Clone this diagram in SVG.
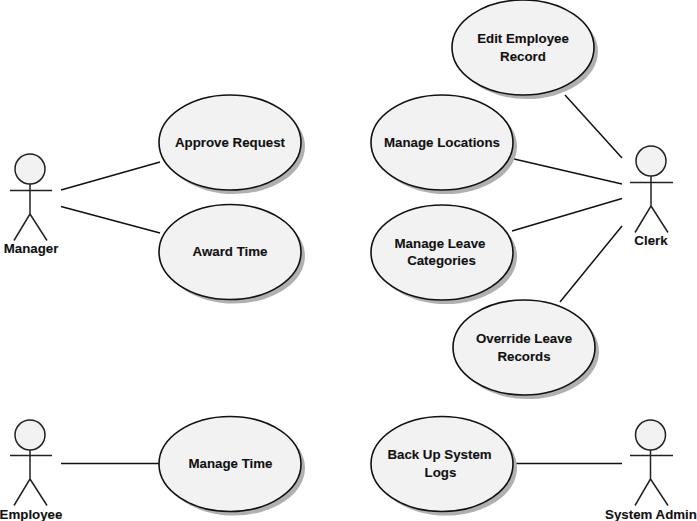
<svg xmlns="http://www.w3.org/2000/svg" width="697" height="521" viewBox="0 0 697 521">
<defs><filter id="b" x="-5%" y="-5%" width="110%" height="110%"><feGaussianBlur stdDeviation="0.7"/></filter></defs>
<style>
text{font-family:"Liberation Sans",Arial,sans-serif;font-size:13.3px;font-weight:bold;fill:#111;text-anchor:middle;stroke:#111;stroke-width:0.1}
.s{fill:#b0b0b0;stroke:none;filter:url(#b)}
.u{fill:#f2f2f2;stroke:#111;stroke-width:1.6}
.c{stroke:#111;stroke-width:1.5;fill:none}
.a{stroke:#222;stroke-width:1.5;fill:none}
.h{fill:#f2f2f2;stroke:#222;stroke-width:1.5}
</style>
<rect width="697" height="521" fill="#fff"/>
<g id="connectors">
<line class="c" x1="61" y1="190" x2="160" y2="162"/>
<line class="c" x1="61" y1="206.500" x2="160" y2="233"/>
<line class="c" x1="565" y1="95" x2="622" y2="158"/>
<line class="c" x1="512" y1="158.500" x2="622" y2="184"/>
<line class="c" x1="512" y1="231" x2="622" y2="198.500"/>
<line class="c" x1="560" y1="302" x2="622" y2="226"/>
<line class="c" x1="61" y1="463.500" x2="160" y2="463.500"/>
<line class="c" x1="513" y1="463.500" x2="622" y2="463.500"/>
</g>
<g id="actor-manager"><circle class="h" cx="30" cy="169" r="15"/><path class="a" d="M10 190.500H52M30 184V214L14 240.500M30 214L47 240.500"/><text x="31" y="253">Manager</text></g>
<g id="actor-clerk"><circle class="h" cx="651" cy="161" r="15"/><path class="a" d="M630 182.500H673M651 176V206L635 232.500M651 206L668 232.500"/><text x="651" y="245">Clerk</text></g>
<g id="actor-employee"><circle class="h" cx="30" cy="435" r="15"/><path class="a" d="M10 455.500H52M30 450V479L14 505.500M30 479L47 505.500"/><text x="31" y="518.500">Employee</text></g>
<g id="actor-admin"><circle class="h" cx="650.500" cy="435" r="15"/><path class="a" d="M630 455.500H673M650.500 450V479L635 505.500M650.500 479L668 505.500"/><text x="651" y="518.500">System Admin</text></g>
<g id="uc-approve"><ellipse class="s" cx="234" cy="146.500" rx="71" ry="47.500"/><ellipse class="u" cx="230" cy="142.500" rx="71" ry="47.500"/><text x="230" y="147">Approve Request</text></g>
<g id="uc-award"><ellipse class="s" cx="234" cy="256" rx="71" ry="47.500"/><ellipse class="u" cx="230" cy="252" rx="71" ry="47.500"/><text x="230" y="256">Award Time</text></g>
<g id="uc-time"><ellipse class="s" cx="234" cy="468" rx="71" ry="47.500"/><ellipse class="u" cx="230" cy="464" rx="71" ry="47.500"/><text x="230.500" y="467.500">Manage Time</text></g>
<g id="uc-edit"><ellipse class="s" cx="527" cy="51.500" rx="71" ry="47.500"/><ellipse class="u" cx="523" cy="47.500" rx="71" ry="47.500"/><text x="523" y="43">Edit Employee</text><text x="523" y="61">Record</text></g>
<g id="uc-locations"><ellipse class="s" cx="446" cy="146.500" rx="71" ry="47.500"/><ellipse class="u" cx="442" cy="142.500" rx="71" ry="47.500"/><text x="442" y="147">Manage Locations</text></g>
<g id="uc-categories"><ellipse class="s" cx="446" cy="256.500" rx="71" ry="47.500"/><ellipse class="u" cx="442" cy="252.500" rx="71" ry="47.500"/><text x="440" y="247.500">Manage Leave</text><text x="441.500" y="265">Categories</text></g>
<g id="uc-override"><ellipse class="s" cx="528" cy="351.500" rx="71" ry="47.500"/><ellipse class="u" cx="524" cy="347.500" rx="71" ry="47.500"/><text x="524" y="343">Override Leave</text><text x="524" y="361">Records</text></g>
<g id="uc-backup"><ellipse class="s" cx="446" cy="468" rx="71" ry="47.500"/><ellipse class="u" cx="442" cy="464" rx="71" ry="47.500"/><text x="439.500" y="459">Back Up System</text><text x="440.500" y="477">Logs</text></g>
</svg>
